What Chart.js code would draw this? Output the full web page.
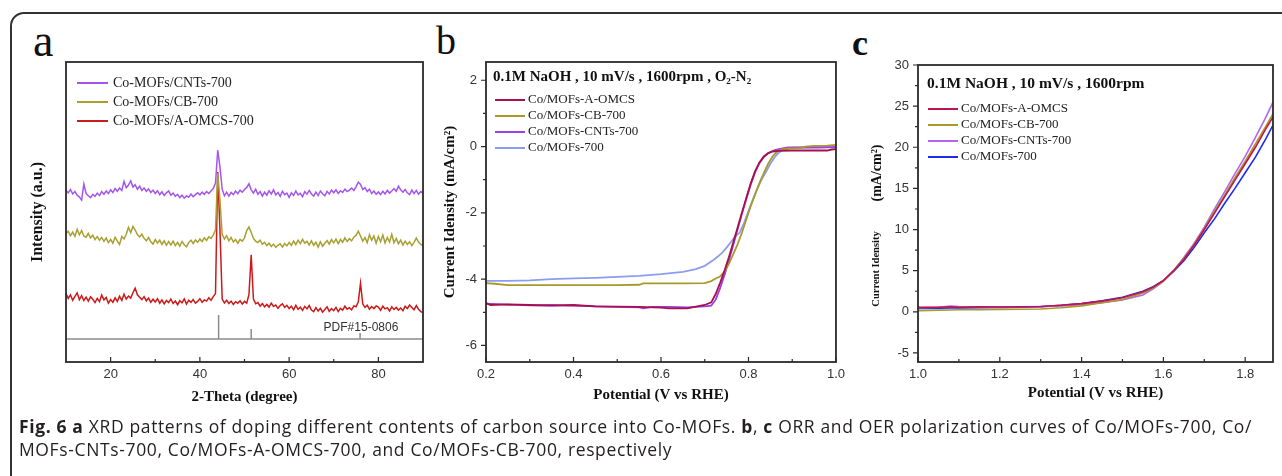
<!DOCTYPE html>
<html>
<head>
<meta charset="utf-8">
<script src="https://cdn.jsdelivr.net/npm/chart.js@4.4.1/dist/chart.umd.min.js"></script>
<style>
  html, body { margin: 0; padding: 0; background: #fff; width: 1282px; height: 476px; overflow: hidden; }
  #frame { position: absolute; left: 10px; top: 12px; width: 1300px; height: 480px; border: 2px solid #333; border-radius: 14px; box-sizing: border-box; }
  canvas { position: absolute; top: 0; }
  .tag { position: absolute; font-family: "Liberation Serif", serif; color: #111; line-height: 1; }
  #caption { position: absolute; left: 19px; top: 415px; font-family: "Open Sans", sans-serif; font-size: 17.5px; line-height: 23px; color: #231f20; white-space: nowrap; }
</style>
</head>
<body>
<div id="frame"></div>
<div class="tag" style="left:33px; top:18px; font-size:46px;">a</div>
<div class="tag" style="left:436px; top:21px; font-size:40px;">b</div>
<div class="tag" style="left:852px; top:25px; font-size:36px; font-weight:bold;">c</div>
<canvas id="chartA" width="430" height="420" style="left:0px"></canvas>
<canvas id="chartB" width="420" height="420" style="left:430px"></canvas>
<canvas id="chartC" width="432" height="420" style="left:850px"></canvas>
<div id="caption"><span id="cap1"><b>Fig. 6 a</b> XRD patterns of doping different contents of carbon source into Co-MOFs. <b>b</b>, <b>c</b> ORR and OER polarization curves of Co/MOFs-700, Co/</span><br>MOFs-CNTs-700, Co/MOFs-A-OMCS-700, and Co/MOFs-CB-700, respectively</div>
<script>
// caption line 1 runs to x=1252 in the figure
const cap1 = document.getElementById('cap1');
const capW = cap1.getBoundingClientRect().width;
document.getElementById('caption').style.letterSpacing = ((1233 - capW) / cap1.textContent.length) + 'px';

// ---------- panel a : XRD (2-theta from 10 to 90, every 0.5 deg) ----------
const thetaStart = 10, thetaStep = 0.5;
const xrdCNTs = [
  57.2, 56.4, 57.5, 56.0, 56.8, 55.6, 55.0, 54.0, 59.3, 56.2,
  55.4, 54.8, 55.9, 55.2, 56.3, 55.5, 56.8, 55.9, 57.0, 56.2,
  57.4, 56.5, 57.8, 56.9, 58.0, 57.2, 60.2, 58.1, 59.0, 60.4,
  58.3, 59.1, 57.6, 58.6, 57.2, 58.0, 56.9, 57.7, 56.5, 57.3,
  56.2, 57.1, 55.8, 56.7, 55.5, 56.4, 57.0, 55.6, 56.3, 55.2,
  55.9, 54.8, 55.6, 54.6, 55.4, 54.9, 56.0, 55.1, 55.8, 56.4,
  55.7, 56.6, 55.9, 56.8, 56.2, 57.0, 57.8, 59.6, 70.6, 65.0,
  57.6, 55.4, 56.6, 55.3, 56.5, 55.8, 57.0, 56.1, 57.3, 56.6,
  57.5, 58.2, 59.4, 57.4, 56.3, 57.6, 55.9, 56.8, 55.3, 56.6,
  55.6, 57.1, 56.0, 57.4, 55.7, 56.5, 55.2, 56.9, 55.8, 56.3,
  54.9, 56.4, 55.5, 57.0, 55.7, 56.2, 55.1, 56.8, 55.9, 57.2,
  56.0, 55.3, 56.6, 55.5, 57.0, 56.1, 55.4, 56.9, 56.0, 57.3,
  56.4, 57.4, 56.2, 57.1, 56.5, 57.6, 56.8, 57.3, 58.0, 57.2,
  58.4, 60.0, 59.2, 57.5, 58.1, 56.8, 57.6, 56.2, 57.0, 55.9,
  56.7, 55.8, 56.9, 56.0, 57.2, 56.3, 57.0, 57.8, 56.9, 58.6,
  57.4, 56.6, 57.5, 56.4, 55.8, 57.3, 56.1, 57.2, 55.9, 56.8,
  56.3
];
const xrdCB = [
  42.8, 43.6, 42.1, 43.3, 41.9, 44.2, 42.4, 43.8, 42.0, 41.6,
  42.9, 41.4, 42.3, 40.8, 41.8, 40.6, 41.5, 40.2, 41.3, 39.8,
  40.9, 39.6, 41.6, 40.3, 39.2, 41.8, 41.0, 42.6, 44.9, 43.1,
  45.2, 44.0, 42.5, 41.7, 42.6, 41.2, 40.4, 41.5, 40.1, 39.3,
  40.8, 39.7, 40.6, 39.2, 40.4, 38.9, 40.1, 39.0, 40.3, 38.8,
  39.9, 38.6, 40.2, 39.1, 38.4, 39.8, 40.6, 39.5, 40.7, 39.9,
  41.0, 40.2, 41.4, 40.5, 41.7, 41.2, 42.3, 44.0, 63.0, 54.0,
  42.6, 41.0, 42.1, 40.4, 41.5, 40.0, 40.8, 39.6, 40.9, 40.3,
  41.4, 43.8, 45.0, 43.2, 41.2, 40.3, 39.8, 40.6, 39.2, 39.9,
  38.8, 39.6, 38.5, 39.3, 38.2, 38.9, 39.4, 38.3, 39.5, 38.7,
  39.8, 38.9, 40.3, 39.1, 40.6, 39.5, 40.9, 39.6, 40.2, 39.0,
  40.4, 38.9, 39.9, 38.3, 40.1, 38.6, 39.6, 40.5, 39.3, 40.8,
  39.7, 41.0, 39.5, 40.9, 39.9, 41.4, 40.2, 41.1, 40.4, 41.6,
  42.2, 43.6, 42.0, 40.3, 41.5, 39.8, 42.4, 40.6, 42.0, 39.6,
  41.9, 40.1, 42.3, 39.7, 41.5, 40.0, 42.6, 39.8, 41.2, 39.4,
  40.6, 39.0, 40.3, 39.2, 40.1, 38.8, 39.9, 41.3, 40.0, 39.2,
  38.8
];
const xrdOMCS = [
  22.8, 21.2, 22.4, 20.6, 21.9, 23.0, 20.8, 22.1, 20.5, 21.6,
  20.3, 21.7, 20.9, 19.8, 21.2, 20.1, 22.3, 20.7, 21.5, 19.6,
  20.8, 19.9, 21.4, 20.2, 21.9, 20.5, 22.6, 21.0, 22.0, 21.3,
  23.1, 24.6, 22.4, 21.6, 20.8, 21.8, 20.4, 21.3, 19.9, 20.9,
  20.0, 21.1, 19.6, 20.7, 19.4, 20.5, 19.8, 21.0, 19.5, 20.3,
  19.1, 20.4, 19.7, 21.0, 19.3, 20.6, 19.9, 20.8, 19.6, 20.2,
  21.1, 19.9, 20.7, 20.3, 21.4, 20.6, 21.8, 22.8, 63.3, 44.0,
  21.0, 19.7, 20.6, 19.5, 20.3, 19.2, 20.1, 19.6, 20.4, 19.3,
  20.2, 19.6, 22.5, 35.7, 21.0, 19.4, 19.8, 18.6, 19.5, 18.4,
  19.2, 18.3, 19.6, 18.5, 19.0, 17.9, 18.8, 19.4, 18.2, 18.9,
  17.8, 18.6, 17.4, 18.9, 17.6, 18.3, 17.2, 18.5, 17.7, 18.8,
  17.3, 16.8, 18.1, 17.0, 17.9, 16.6, 17.5, 18.4, 16.9, 17.8,
  17.1, 18.2, 16.8, 17.9, 17.3, 18.6, 17.6, 18.1, 17.4, 18.7,
  18.4, 20.1, 26.3, 19.3, 18.2, 18.9, 17.6, 18.5, 17.8, 18.7,
  18.3, 17.2, 18.6, 17.7, 18.1, 17.0, 18.4, 17.5, 18.2, 17.3,
  18.0, 17.1, 18.6, 17.8, 19.0, 18.2, 17.4, 18.8, 17.6, 16.8,
  16.5
];
const pdfPeaks = [44.2, 51.5, 75.9];
const pdfHeights = [8.0, 3.3, 2.0];
const pdfBase = 7.7;
const ticksA = [20, 40, 60, 80];
const minorA = [30, 50, 70];

// ---------- panel b : ORR ----------
const orrOMCSx = [0.20, 0.21, 0.25, 0.30, 0.35, 0.40, 0.45, 0.50, 0.55, 0.60, 0.62, 0.66, 0.68, 0.70, 0.715, 0.725, 0.735, 0.745, 0.755, 0.765, 0.775, 0.785, 0.795, 0.805, 0.815, 0.825, 0.835, 0.845, 0.855, 0.87, 0.90, 0.95, 0.98, 0.99, 1.00];
const orrOMCSy = [-4.72, -4.78, -4.76, -4.78, -4.80, -4.78, -4.82, -4.83, -4.84, -4.86, -4.88, -4.88, -4.83, -4.78, -4.70, -4.45, -4.12, -3.75, -3.35, -2.90, -2.45, -2.00, -1.55, -1.12, -0.75, -0.48, -0.30, -0.20, -0.15, -0.13, -0.12, -0.12, -0.12, -0.09, -0.08];
const orrCBx = [0.20, 0.22, 0.25, 0.30, 0.40, 0.50, 0.55, 0.56, 0.60, 0.65, 0.70, 0.715, 0.725, 0.735, 0.745, 0.755, 0.765, 0.775, 0.785, 0.795, 0.805, 0.815, 0.825, 0.835, 0.845, 0.855, 0.865, 0.875, 0.89, 0.92, 0.93, 0.95, 0.98, 1.00];
const orrCBy = [-4.12, -4.14, -4.18, -4.18, -4.18, -4.18, -4.17, -4.13, -4.13, -4.13, -4.12, -4.06, -3.98, -3.92, -3.78, -3.55, -3.25, -2.95, -2.60, -2.20, -1.80, -1.45, -1.10, -0.80, -0.52, -0.30, -0.16, -0.09, -0.06, -0.04, 0.00, 0.02, 0.03, 0.05];
const orrCNTsx = [0.20, 0.25, 0.30, 0.35, 0.40, 0.45, 0.50, 0.55, 0.56, 0.58, 0.62, 0.66, 0.70, 0.715, 0.725, 0.735, 0.745, 0.755, 0.765, 0.775, 0.785, 0.795, 0.805, 0.815, 0.825, 0.835, 0.845, 0.86, 0.875, 0.89, 0.92, 0.96, 1.00];
const orrCNTsy = [-4.74, -4.77, -4.79, -4.78, -4.80, -4.82, -4.84, -4.85, -4.88, -4.84, -4.84, -4.85, -4.82, -4.80, -4.62, -4.28, -3.88, -3.45, -2.98, -2.50, -2.03, -1.58, -1.15, -0.78, -0.50, -0.32, -0.20, -0.11, -0.06, -0.03, -0.03, -0.03, -0.02];
const orr700x = [0.20, 0.25, 0.30, 0.35, 0.40, 0.45, 0.50, 0.55, 0.60, 0.65, 0.68, 0.70, 0.72, 0.73, 0.74, 0.75, 0.76, 0.77, 0.78, 0.79, 0.80, 0.81, 0.82, 0.83, 0.84, 0.85, 0.86, 0.87, 0.88, 0.90, 0.95, 1.00];
const orr700y = [-4.05, -4.05, -4.04, -4.00, -3.98, -3.96, -3.93, -3.90, -3.85, -3.78, -3.70, -3.60, -3.42, -3.32, -3.20, -3.05, -2.88, -2.70, -2.60, -2.30, -1.95, -1.60, -1.28, -1.00, -0.76, -0.52, -0.32, -0.18, -0.09, -0.03, -0.02, -0.01];
const ticksBx = [0.2, 0.4, 0.6, 0.8, 1.0];
const minorBx = [0.3, 0.5, 0.7, 0.9];
const ticksBy = [2, 0, -2, -4, -6];
const minorBy = [1, -1, -3, -5];

// ---------- panel c : OER ----------
const oerX = [1.0, 1.05, 1.08, 1.1, 1.15, 1.2, 1.25, 1.3, 1.35, 1.4, 1.45, 1.5, 1.55, 1.575, 1.6, 1.625, 1.65, 1.675, 1.7, 1.725, 1.75, 1.775, 1.8, 1.825, 1.85, 1.868];
const oerOMCS = [0.55, 0.55, 0.62, 0.55, 0.60, 0.58, 0.62, 0.65, 0.80, 1.00, 1.30, 1.70, 2.45, 3.00, 3.80, 5.00, 6.40, 8.10, 10.0, 12.0, 14.0, 16.0, 18.0, 20.0, 22.2, 23.7];
const oerCB = [0.15, 0.20, 0.22, 0.25, 0.25, 0.30, 0.32, 0.35, 0.50, 0.72, 1.10, 1.50, 2.30, 2.90, 3.75, 5.00, 6.50, 8.20, 10.1, 12.2, 14.2, 16.3, 18.3, 20.4, 22.5, 24.1];
const oerCNTs = [0.50, 0.55, 0.70, 0.65, 0.60, 0.60, 0.62, 0.65, 0.72, 0.85, 1.10, 1.45, 2.05, 2.80, 3.70, 5.00, 6.60, 8.30, 10.3, 12.5, 14.6, 16.8, 18.9, 21.2, 23.6, 25.5];
const oer700 = [0.40, 0.45, 0.46, 0.48, 0.50, 0.52, 0.55, 0.62, 0.78, 1.02, 1.35, 1.78, 2.50, 3.05, 3.80, 4.90, 6.20, 7.80, 9.60, 11.3, 13.2, 15.0, 16.9, 18.8, 21.0, 22.7];
const ticksCx = [1.0, 1.2, 1.4, 1.6, 1.8];
const minorCx = [1.1, 1.3, 1.5, 1.7];
const ticksCy = [30, 25, 20, 15, 10, 5, 0, -5];
const minorCy = [27.5, 22.5, 17.5, 12.5, 7.5, 2.5, -2.5];

const serif = '"Liberation Serif", "Times New Roman", serif';
const sans = '"Liberation Sans", Arial, sans-serif';

function pairs(xs, ys) {
  return ys.map((v, i) => ({ x: xs[i], y: v }));
}
function xrdPoints(ys) {
  return ys.map((v, i) => ({ x: thetaStart + i * thetaStep, y: v }));
}
function pdfPoints() {
  let pts = [{ x: 10, y: pdfBase }];
  pdfPeaks.forEach((p, i) => {
    pts.push({ x: p, y: pdfBase });
    pts.push({ x: p, y: pdfBase + pdfHeights[i] });
    pts.push({ x: p, y: pdfBase });
  });
  pts.push({ x: 90, y: pdfBase });
  return pts;
}

// frame + inner x ticks + outer y ticks
const frameTicks = {
  id: 'frameTicks',
  afterDatasetsDraw(chart, args, o) {
    const { ctx, chartArea: a, scales: { x, y } } = chart;
    ctx.save();
    ctx.strokeStyle = '#2a2a2a';
    ctx.lineWidth = 1.2;
    ctx.beginPath();
    (o.xMajor || []).forEach(v => { const p = x.getPixelForValue(v); ctx.moveTo(p, a.bottom); ctx.lineTo(p, a.bottom - 5); });
    (o.xMinor || []).forEach(v => { const p = x.getPixelForValue(v); ctx.moveTo(p, a.bottom); ctx.lineTo(p, a.bottom - 3); });
    (o.yMajor || []).forEach(v => { const p = y.getPixelForValue(v); ctx.moveTo(a.left, p); ctx.lineTo(a.left - 5, p); });
    (o.yMinor || []).forEach(v => { const p = y.getPixelForValue(v); ctx.moveTo(a.left, p); ctx.lineTo(a.left - 3, p); });
    ctx.stroke();
    ctx.lineWidth = 1.8;
    ctx.strokeRect(a.left, a.top, a.right - a.left, a.bottom - a.top);
    ctx.restore();
  }
};

// legend, note text and extra labels inside the box
const boxLegend = {
  id: 'boxLegend',
  afterDraw(chart, args, o) {
    const { ctx, chartArea: a } = chart;
    ctx.save();
    ctx.textBaseline = 'middle';
    if (o.title) {
      ctx.font = o.titleFont;
      ctx.fillStyle = '#111';
      ctx.fillText(o.title, a.left + o.titleX, a.top + o.titleY);
    }
    ctx.font = o.font;
    let row = 0;
    chart.data.datasets.forEach(ds => {
      if (ds.hideInLegend) return;
      const yy = a.top + o.y + row * o.rowH;
      ctx.strokeStyle = ds.borderColor;
      ctx.lineWidth = 2;
      ctx.beginPath();
      ctx.moveTo(a.left + o.x, yy);
      ctx.lineTo(a.left + o.x + o.lineLen, yy);
      ctx.stroke();
      ctx.fillStyle = '#222';
      ctx.fillText(ds.label, a.left + o.x + o.lineLen + o.gap, yy);
      row++;
    });
    if (o.note) {
      ctx.font = o.note.font;
      ctx.fillStyle = '#333';
      ctx.textAlign = 'center';
      ctx.fillText(o.note.text, chart.scales.x.getPixelForValue(o.note.x), chart.scales.y.getPixelForValue(o.note.y));
    }
    if (o.sideTitles) {
      o.sideTitles.forEach(t => {
        ctx.save();
        ctx.translate(t.x, t.y);
        ctx.rotate(-Math.PI / 2);
        ctx.font = t.font;
        ctx.fillStyle = '#111';
        ctx.textAlign = 'center';
        ctx.fillText(t.text, 0, 0);
        ctx.restore();
      });
    }
    ctx.restore();
  }
};

function axisX(min, max, ticks, fmt, title, titlePad) {
  return {
    type: 'linear', min: min, max: max,
    grid: { display: false, drawTicks: false },
    border: { display: false },
    afterBuildTicks: s => { s.ticks = ticks.map(v => ({ value: v })); },
    afterFit: s => { s.height = 58; },
    ticks: { padding: 5, color: '#333', font: { family: sans, size: 13 }, callback: fmt },
    title: { display: true, text: title, color: '#111', font: { family: serif, size: 15, weight: 'bold' }, padding: { top: 0, bottom: titlePad } }
  };
}
function axisY(min, max, ticks, width, showTicks, title, titlePad, titleSize) {
  return {
    type: 'linear', min: min, max: max,
    grid: { display: false, drawTicks: false },
    border: { display: false },
    afterBuildTicks: s => { s.ticks = ticks.map(v => ({ value: v })); },
    afterFit: s => { s.width = width; },
    ticks: { display: showTicks, padding: 9, color: '#333', font: { family: sans, size: 13 }, callback: v => String(v) },
    title: { display: !!title, text: title, color: '#111', font: { family: serif, size: titleSize, weight: 'bold' }, padding: { top: titlePad, bottom: 0 } }
  };
}
function lineSet(label, color, data, width) {
  return { label: label, data: data, borderColor: color, borderWidth: width, pointRadius: 0, fill: false, tension: 0 };
}
const common = { responsive: false, animation: false, devicePixelRatio: 1, events: [] };

// a
new Chart(document.getElementById('chartA'), {
  type: 'line',
  data: {
    datasets: [
      lineSet('Co-MOFs/CNTs-700', '#a455f0', xrdPoints(xrdCNTs), 1.5),
      lineSet('Co-MOFs/CB-700', '#a8a032', xrdPoints(xrdCB), 1.5),
      lineSet('Co-MOFs/A-OMCS-700', '#cc1a1a', xrdPoints(xrdOMCS), 1.5),
      Object.assign(lineSet('PDF#15-0806', '#8c8c8c', pdfPoints(), 1.5), { hideInLegend: true })
    ]
  },
  options: Object.assign({}, common, {
    layout: { padding: { top: 62, right: 7, left: 0, bottom: 0 } },
    scales: {
      x: axisX(10, 90, ticksA, v => String(v), '2-Theta (degree)', 14),
      y: axisY(0, 100, [], 66, false, 'Intensity (a.u.)', 28, 16)
    },
    plugins: {
      legend: { display: false }, tooltip: { enabled: false },
      frameTicks: { xMajor: ticksA, xMinor: minorA },
      boxLegend: { font: '14px ' + serif, x: 11, y: 21, rowH: 19, lineLen: 31, gap: 5,
        note: { text: 'PDF#15-0806', x: 76.1, y: 11.3, font: '12px ' + sans } }
    }
  }),
  plugins: [frameTicks, boxLegend]
});

// b
new Chart(document.getElementById('chartB'), {
  type: 'line',
  data: {
    datasets: [
      lineSet('Co/MOFs-A-OMCS', '#a8104a', pairs(orrOMCSx, orrOMCSy), 1.8),
      lineSet('Co/MOFs-CB-700', '#a89a2a', pairs(orrCBx, orrCBy), 1.8),
      lineSet('Co/MOFs-CNTs-700', '#9b3fe8', pairs(orrCNTsx, orrCNTsy), 1.8),
      lineSet('Co/MOFs-700', '#8c9cf0', pairs(orr700x, orr700y), 1.8)
    ]
  },
  options: Object.assign({}, common, {
    layout: { padding: { top: 62, right: 10, left: 0, bottom: 0 } },
    scales: {
      x: axisX(0.2, 1.0, ticksBx, v => v.toFixed(1), 'Potential (V vs RHE)', 16),
      y: axisY(-6.5, 2.55, ticksBy, 56, true, 'Current Idensity (mA/cm²)', 11, 15)
    },
    plugins: {
      legend: { display: false }, tooltip: { enabled: false },
      frameTicks: { xMajor: ticksBx, xMinor: minorBx, yMajor: ticksBy, yMinor: minorBy },
      boxLegend: { title: '0.1M NaOH , 10 mV/s , 1600rpm , O₂-N₂', titleFont: 'bold 15px ' + serif, titleX: 7, titleY: 15,
        font: '13px ' + serif, x: 9, y: 38, rowH: 16, lineLen: 30, gap: 3 }
    }
  }),
  plugins: [frameTicks, boxLegend]
});

// c
new Chart(document.getElementById('chartC'), {
  type: 'line',
  data: {
    datasets: [
      lineSet('Co/MOFs-A-OMCS', '#c0144e', pairs(oerX, oerOMCS), 1.6),
      lineSet('Co/MOFs-CB-700', '#a89a22', pairs(oerX, oerCB), 1.6),
      lineSet('Co/MOFs-CNTs-700', '#b066f2', pairs(oerX, oerCNTs), 1.6),
      lineSet('Co/MOFs-700', '#1c2ce8', pairs(oerX, oer700), 1.6)
    ]
  },
  options: Object.assign({}, common, {
    layout: { padding: { top: 65, right: 9, left: 0, bottom: 0 } },
    scales: {
      x: axisX(1.0, 1.868, ticksCx, v => v.toFixed(1), 'Potential (V vs RHE)', 18),
      y: axisY(-6.1, 30, ticksCy, 68, true, '', 0, 12)
    },
    plugins: {
      legend: { display: false }, tooltip: { enabled: false },
      frameTicks: { xMajor: ticksCx, xMinor: minorCx, yMajor: ticksCy, yMinor: minorCy },
      boxLegend: { title: '0.1M NaOH , 10 mV/s , 1600rpm', titleFont: 'bold 15.5px ' + serif, titleX: 9, titleY: 19,
        font: '13px ' + serif, x: 10, y: 44, rowH: 16, lineLen: 30, gap: 3,
        sideTitles: [
          { text: 'Current Idensity', x: 26, y: 269, font: 'bold 10.5px ' + serif },
          { text: '(mA/cm²)', x: 27, y: 173, font: 'bold 14px ' + serif }
        ] }
    }
  }),
  plugins: [frameTicks, boxLegend]
});
</script>
</body>
</html>
